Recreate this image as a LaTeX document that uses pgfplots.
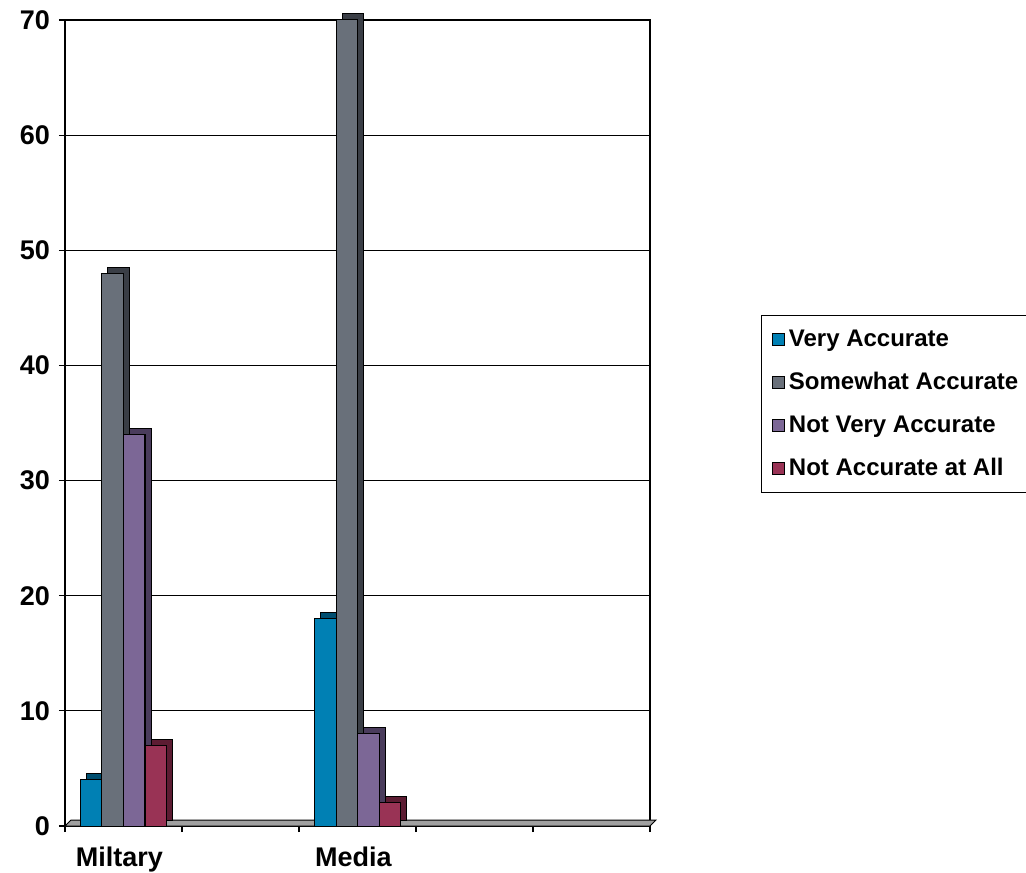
\documentclass[border=0pt]{standalone}
\usepackage{pgfplots}
\pgfplotsset{compat=1.18}
\usepackage{fontspec}
\setmainfont{Liberation Sans}

\definecolor{vaFront}{RGB}{0,128,180}
\definecolor{vaSide}{RGB}{0,78,112}
\definecolor{saFront}{RGB}{105,112,122}
\definecolor{saSide}{RGB}{58,62,70}
\definecolor{nvFront}{RGB}{124,103,150}
\definecolor{nvSide}{RGB}{74,60,92}
\definecolor{naFront}{RGB}{153,51,85}
\definecolor{naSide}{RGB}{92,28,50}
\definecolor{floorgray}{RGB}{160,160,160}

% survey answers per source (0 = Miltary, 2 = Media)
\pgfplotstableread{
x  va  sa  nv  na
0  4   48  34  7
2  18  70  8   2
}\answers

\begin{document}
\begin{tikzpicture}
\useasboundingbox (-32.5pt,-23pt) rectangle (480.5pt,413pt);
\begin{axis}[
  at={(0,0)}, anchor=south west,
  width=292.5pt, height=403pt, scale only axis,
  xmin=-0.5, xmax=4.5, ymin=0, ymax=70,
  clip=false,
  axis line style={black, line width=0.6pt},
  ytick={0,10,...,70},
  ymajorgrids, grid style={black, line width=0.6pt},
  xtick={0,2}, xticklabels={Miltary, Media},
  minor xtick={-0.5,0.5,...,4.5},
  major x tick style={draw=none},
  minor tick length=3pt, major tick length=3pt,
  tick align=outside, xtick pos=lower, ytick pos=left,
  tick style={black, line width=0.6pt},
  /pgf/number format/assume math mode=true,
  ticklabel style={font=\bfseries\fontsize{13.5}{16}\selectfont},
  xticklabel style={yshift=-4pt, xshift=-2pt},
  yticklabel style={xshift=-1pt},
  ybar, bar width=10.75pt,
  legend style={
    at={(1.19,0.634)}, anchor=north west,
    draw=black, line width=0.6pt,
    font=\bfseries\fontsize{12}{14}\selectfont,
    row sep=7.5pt, inner xsep=5pt, inner ysep=5pt,
    legend cell align=left,
  },
  legend image code/.code={
    \draw[#1, draw=black, line width=0.6pt] (0pt,-3pt) rectangle (6pt,3pt);
  },
]
% floor of the chart
\fill[floorgray, draw=black, line width=0.5pt]
  (rel axis cs:0,0) -- (rel axis cs:1,0)
  -- ([shift={(3pt,3pt)}]rel axis cs:1,0)
  -- ([shift={(3pt,3pt)}]rel axis cs:0,0) -- cycle;

% each series: shaded depth block behind, then the front face
\addplot[forget plot, fill=vaSide, draw=black, line width=0.5pt, bar shift=-16.125pt, xshift=3pt, yshift=3pt] table[x=x, y=va] {\answers};
\addplot[fill=vaFront, draw=black, line width=0.5pt, bar shift=-16.125pt] table[x=x, y=va] {\answers};
\addlegendentry{Very Accurate}

\addplot[forget plot, fill=saSide, draw=black, line width=0.5pt, bar shift=-5.375pt, xshift=3pt, yshift=3pt] table[x=x, y=sa] {\answers};
\addplot[fill=saFront, draw=black, line width=0.5pt, bar shift=-5.375pt] table[x=x, y=sa] {\answers};
\addlegendentry{Somewhat Accurate}

\addplot[forget plot, fill=nvSide, draw=black, line width=0.5pt, bar shift=5.375pt, xshift=3pt, yshift=3pt] table[x=x, y=nv] {\answers};
\addplot[fill=nvFront, draw=black, line width=0.5pt, bar shift=5.375pt] table[x=x, y=nv] {\answers};
\addlegendentry{Not Very Accurate}

\addplot[forget plot, fill=naSide, draw=black, line width=0.5pt, bar shift=16.125pt, xshift=3pt, yshift=3pt] table[x=x, y=na] {\answers};
\addplot[fill=naFront, draw=black, line width=0.5pt, bar shift=16.125pt] table[x=x, y=na] {\answers};
\addlegendentry{Not Accurate at All}
\end{axis}
\end{tikzpicture}
\end{document}
